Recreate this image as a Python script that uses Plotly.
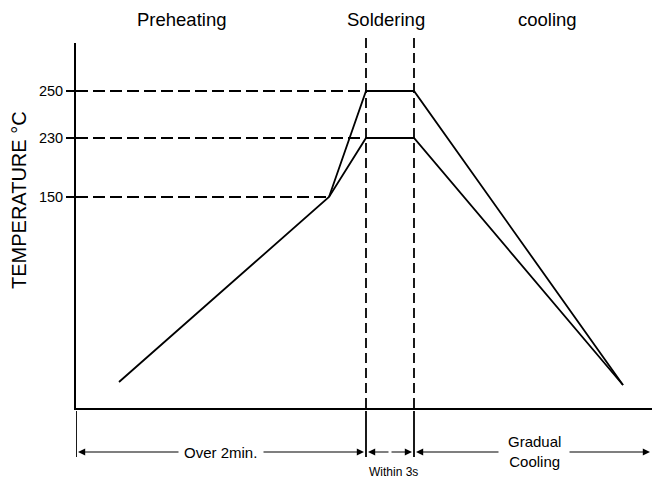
import plotly.graph_objects as go

# schematic reflow profile, chart units (x: time from axis, y: height above time axis)
profile_x = [43, 253, 290, 338, 547]
low_profile_y = [26, 211, 270, 270, 23]
peak_x = [253, 290, 338, 547]
peak_profile_y = [211, 317, 317, 23]

temp_levels = [211, 270, 317]
temp_labels = ["150", "230", "250"]
level_ends = [253, 290, 290]

stage_bounds = [0, 290, 338, 576]
stage_names = ["Preheating", "Soldering", "cooling"]
stage_name_x = [105, 310, 471.5]

FONT = "Liberation Sans"
PLOT_TOP, PLOT_BOTTOM, PLOT_H = 43, 408, 365


def paper_y(py):
    # pixel row -> paper fraction
    return (PLOT_BOTTOM - py) / PLOT_H


fig = go.Figure()

fig.add_trace(
    go.Scatter(
        x=profile_x,
        y=low_profile_y,
        mode="lines",
        line=dict(color="black", width=1.8),
        showlegend=False,
        hoverinfo="skip",
    )
)
fig.add_trace(
    go.Scatter(
        x=peak_x,
        y=peak_profile_y,
        mode="lines",
        line=dict(color="black", width=1.8),
        showlegend=False,
        hoverinfo="skip",
    )
)

# dashed guide lines to the temperature levels
for lvl, x_end in zip(temp_levels, level_ends):
    fig.add_shape(
        type="line",
        x0=stage_bounds[0],
        x1=x_end,
        y0=lvl,
        y1=lvl,
        xref="x",
        yref="y",
        line=dict(color="black", width=1.8, dash="12px,5px"),
    )

# soldering window bounds
for xb in stage_bounds[1:3]:
    fig.add_shape(
        type="line",
        x0=xb,
        x1=xb,
        y0=0,
        y1=paper_y(38),
        xref="x",
        yref="paper",
        line=dict(color="black", width=1.8, dash="10px,5px"),
    )

# dimension ticks below time axis
for xb in stage_bounds[:3]:
    fig.add_shape(
        type="line",
        x0=xb,
        x1=xb,
        y0=paper_y(411),
        y1=paper_y(457),
        xref="x",
        yref="paper",
        line=dict(color="black", width=1.8),
    )

# dimension arrows: (tail, head)
arrow_y = paper_y(452)
arrows = [(104, 2), (186, 288), (314, 292), (314, 336), (424, 340), (492, 574)]
for tail, head in arrows:
    fig.add_annotation(
        x=head,
        y=arrow_y,
        xref="x",
        yref="paper",
        ax=tail,
        ay=0,
        axref="x",
        ayref="pixel",
        text="",
        showarrow=True,
        arrowhead=2,
        arrowsize=1.2,
        arrowwidth=1.2,
        arrowcolor="black",
    )

dim_labels = [
    (144.5, paper_y(452), "Over 2min.", 15),
    (317.5, paper_y(472), "Within 3s", 12),
    (458, paper_y(451), "Gradual<br>Cooling", 15),
]
for x, y, txt, size in dim_labels:
    fig.add_annotation(
        x=x,
        y=y,
        xref="x",
        yref="paper",
        xanchor="center",
        yanchor="middle",
        text=txt,
        showarrow=False,
        font=dict(family=FONT, size=size, color="black"),
    )

for name, x in zip(stage_names, stage_name_x):
    fig.add_annotation(
        x=x,
        y=paper_y(20),
        xref="x",
        yref="paper",
        xanchor="center",
        yanchor="middle",
        text=name,
        showarrow=False,
        font=dict(family=FONT, size=18.5, color="black"),
    )

fig.add_annotation(
    x=(19 - 76) / 576,
    y=paper_y(200),
    xref="paper",
    yref="paper",
    xanchor="center",
    yanchor="middle",
    text="TEMPERATURE °C",
    textangle=-90,
    showarrow=False,
    font=dict(family=FONT, size=20, color="black"),
)

fig.update_layout(
    width=652,
    height=483,
    margin=dict(l=76, r=0, t=PLOT_TOP, b=483 - PLOT_BOTTOM, pad=0),
    paper_bgcolor="white",
    plot_bgcolor="white",
    font=dict(family=FONT, color="black"),
    xaxis=dict(
        range=[0, 576],
        showline=True,
        linecolor="black",
        linewidth=2,
        showgrid=False,
        zeroline=False,
        showticklabels=False,
        ticks="",
        fixedrange=True,
    ),
    yaxis=dict(
        range=[0, 365],
        showline=True,
        linecolor="black",
        linewidth=2,
        showgrid=False,
        zeroline=False,
        tickvals=temp_levels,
        ticktext=temp_labels,
        ticks="outside",
        ticklen=8,
        tickwidth=1.5,
        tickcolor="black",
        tickfont=dict(family=FONT, size=14.5, color="black"),
        fixedrange=True,
    ),
    showlegend=False,
)

fig.write_html(
    "out.html",
    config={"displayModeBar": False},
    post_script="document.body.style.margin='0';",
)
